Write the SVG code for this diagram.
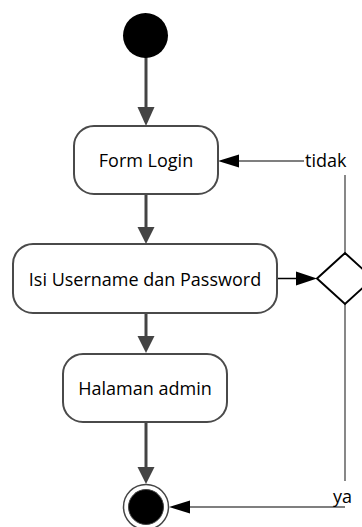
<svg xmlns="http://www.w3.org/2000/svg" width="362" height="527" viewBox="0 0 362 527">
  <style>
    .act { fill: #ffffff; stroke: #4a4a4a; stroke-width: 2; }
    .lbl { font-family: "Open Sans", "Liberation Sans", sans-serif; font-size: 18px; fill: #000000; }
    .flow { stroke: #444444; stroke-width: 3; fill: none; }
    .thin { stroke: #555555; stroke-width: 1.4; fill: none; }
    .head { fill: #444444; }
    .headk { fill: #000000; }
  </style>
  <rect width="362" height="527" fill="#ffffff"/>

  <g id="connectors">
    <!-- start to Form Login -->
    <line class="flow" x1="146" y1="57" x2="146" y2="109"/>
    <polygon class="head" points="137.5,107 154.5,107 146,126"/>
    <!-- Form Login to Isi Username dan Password -->
    <line class="flow" x1="146" y1="194" x2="146" y2="229"/>
    <polygon class="head" points="137.5,227 154.5,227 146,244"/>
    <!-- Isi Username dan Password to Halaman admin -->
    <line class="flow" x1="146" y1="313" x2="146" y2="338"/>
    <polygon class="head" points="137.5,336 154.5,336 146,353"/>
    <!-- Halaman admin to end -->
    <line class="flow" x1="146" y1="422" x2="146" y2="469"/>
    <polygon class="head" points="137.5,467 154.5,467 146,484"/>
    <!-- Isi Username dan Password to decision -->
    <line stroke="#000000" stroke-width="1.5" x1="277" y1="278.5" x2="298" y2="278.5"/>
    <polygon class="headk" points="296,271.5 296,285.5 317,278.5"/>
    <!-- decision: tidak, back to Form Login -->
    <line class="thin" x1="345" y1="253" x2="345" y2="175"/>
    <line class="thin" x1="304" y1="161" x2="237" y2="161"/>
    <polygon class="headk" points="239,154.5 239,167.5 218,161"/>
    <!-- decision: ya, to end -->
    <line class="thin" x1="345" y1="304" x2="345" y2="481"/>
    <line class="thin" x1="345" y1="507" x2="188" y2="507"/>
    <polygon class="headk" points="190,500.5 190,513.5 169,507"/>
    <text class="lbl" x="305" y="167">tidak</text>
    <text class="lbl" x="333" y="503">ya</text>
  </g>

  <g id="start">
    <circle cx="145.5" cy="35.5" r="22.5" fill="#000000"/>
  </g>

  <g id="form-login">
    <rect class="act" x="74" y="126" width="144" height="68" rx="20"/>
    <text class="lbl" x="146" y="167" text-anchor="middle">Form Login</text>
  </g>

  <g id="isi-username">
    <rect class="act" x="13" y="244" width="264" height="69" rx="20"/>
    <text class="lbl" x="145" y="286" text-anchor="middle">Isi Username dan Password</text>
  </g>

  <g id="decision">
    <polygon points="317,278.5 345,253 373,278.5 345,304" fill="#ffffff" stroke="#000000" stroke-width="2"/>
  </g>

  <g id="halaman-admin">
    <rect class="act" x="63" y="354" width="164" height="68" rx="20"/>
    <text class="lbl" x="145" y="395" text-anchor="middle">Halaman admin</text>
  </g>

  <g id="end">
    <circle cx="146" cy="507" r="22.5" fill="#ffffff" stroke="#444444" stroke-width="1.5"/>
    <circle cx="146" cy="507" r="17.5" fill="#000000" stroke="#444444" stroke-width="1"/>
  </g>
</svg>
